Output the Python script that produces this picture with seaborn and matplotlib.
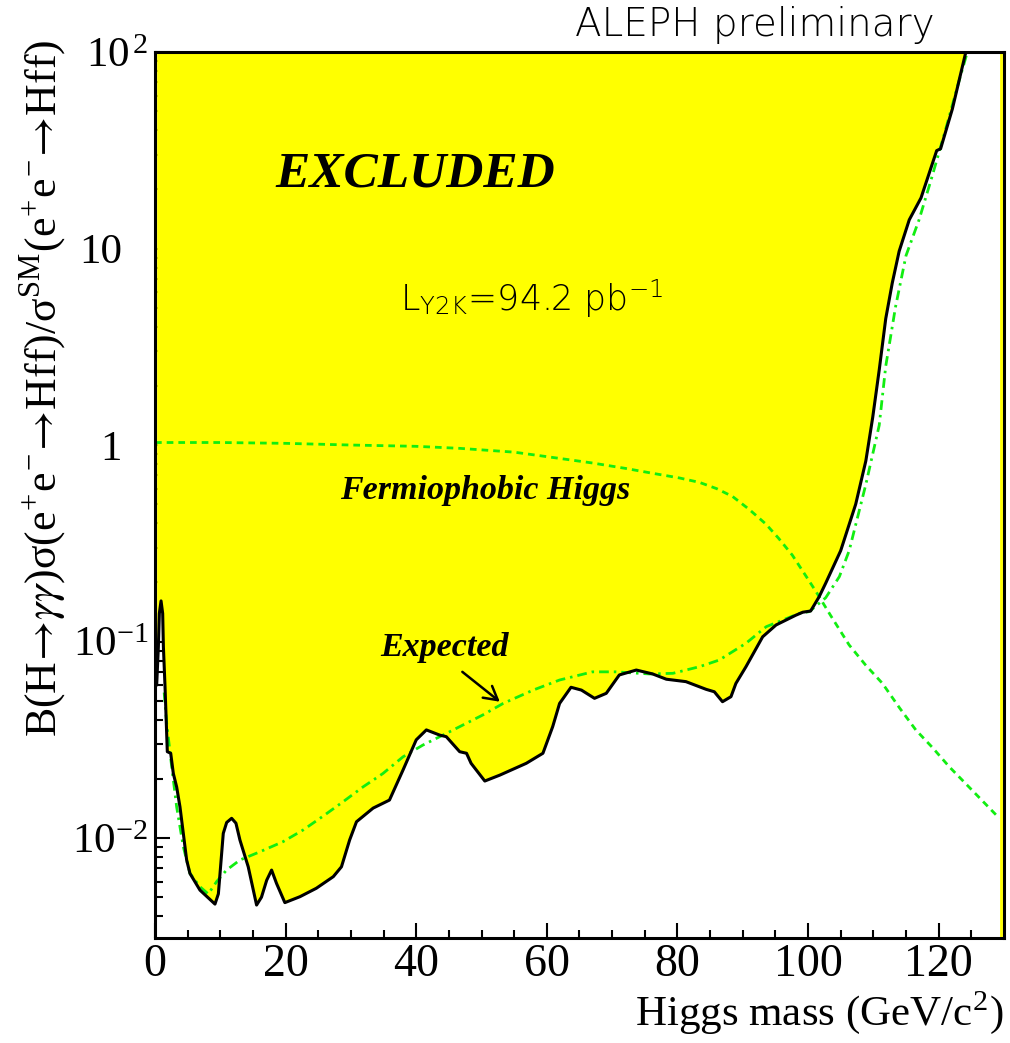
import numpy as np
import pandas as pd
import seaborn as sns
import matplotlib
matplotlib.use("Agg")
import matplotlib.pyplot as plt
from matplotlib.transforms import ScaledTranslation
from matplotlib.ticker import FixedLocator, FixedFormatter, LogLocator, MultipleLocator, NullFormatter

# Observed 95% CL upper limit (black line, boundary of the excluded region)
limit_mass = [0.25, 0.51, 0.66, 0.92, 1.17, 1.28, 1.53, 1.78, 1.88, 2.4, 2.8, 3.31, 3.82, 4.33,
              4.84, 5.35, 6.88, 9.18, 9.7, 10.45, 10.97, 11.73, 12.39, 13.0, 14.27, 15.55,
              16.3, 17.1, 17.85, 18.6, 19.88, 22.2, 24.7, 27.3, 28.55, 29.8, 30.85, 33.4,
              35.9, 37.98, 40.0, 41.55, 43.6, 44.6, 46.65, 47.7, 48.4, 50.5, 52.8, 56.85,
              59.4, 60.9, 61.95, 63.7, 65.3, 67.3, 69.1, 71.1, 73.7, 76.2, 78.3, 81.3, 84.4,
              85.65, 86.9, 88.2, 88.95, 90.5, 93.05, 95.1, 98.1, 99.2, 100.4, 101.7, 102.7,
              105.0, 107.3, 108.85, 109.9, 110.9, 111.9, 112.9, 113.95, 115.5, 117.3, 119.0,
              119.7, 120.3, 122.1, 124.1, 124.3]
limit_vals = [0.06, 0.094, 0.139, 0.161, 0.139, 0.094, 0.0589, 0.0341, 0.0275, 0.027, 0.0213,
              0.0182, 0.0144, 0.01056, 0.00773, 0.0066, 0.00543, 0.00461, 0.0052, 0.01056,
              0.0120, 0.0126, 0.0119, 0.00977, 0.00714, 0.00456, 0.0050, 0.0061, 0.00687,
              0.00588, 0.00469, 0.00503, 0.00555, 0.00636, 0.00714, 0.00977, 0.0121, 0.0142,
              0.0156, 0.0222, 0.0316, 0.0355, 0.0334, 0.0328, 0.0275, 0.027, 0.024, 0.0195,
              0.0209, 0.024, 0.027, 0.0369, 0.0484, 0.0585, 0.0566, 0.0514, 0.0545, 0.0676,
              0.0716, 0.0684, 0.0643, 0.0625, 0.0571, 0.0555, 0.0494, 0.0524, 0.0612, 0.0745,
              0.1057, 0.1214, 0.136, 0.141, 0.143, 0.169, 0.198, 0.29, 0.50, 0.83, 1.38, 2.41,
              4.40, 6.68, 9.68, 14.0, 18.1, 26.8, 31.5, 32.2, 51.3, 98.0, 100.0]

# Expected limit (green dash-dotted)
exp_mass = [1.4, 1.78, 2.55, 3.31, 4.33, 5.35, 6.88, 8.15, 9.43, 10.95, 13.0, 16.06, 19.6,
            22.7, 25.7, 28.8, 31.85, 34.9, 37.98, 41.0, 44.4, 50.2, 53.3, 57.9, 61.95, 67.0,
            70.6, 75.7, 79.3, 83.4, 86.4, 90.5, 93.6, 98.65, 100.2, 102.7, 104.8, 106.3,
            108.85, 110.9, 111.9, 113.4, 115.0, 117.0, 119.0, 121.1, 123.1, 124.4]
exp_vals = [0.055, 0.0384, 0.0231, 0.0144, 0.00903, 0.0066, 0.00565, 0.00519, 0.0060, 0.00687,
            0.00773, 0.00851, 0.00958, 0.0110, 0.0129, 0.0153, 0.0182, 0.0213, 0.0259, 0.0297,
            0.0338, 0.0423, 0.0484, 0.0566, 0.0637, 0.0701, 0.0701, 0.0684, 0.0689, 0.0745,
            0.0805, 0.098, 0.119, 0.139, 0.142, 0.167, 0.214, 0.29, 0.63, 1.26, 2.52, 5.05,
            9.2, 14.0, 23.3, 40.7, 70.8, 100.0]

# Fermiophobic Higgs prediction (green dashed)
fp_mass = [0, 10, 20, 30, 40, 46.65, 55, 61.95, 67, 72.1, 76, 80.3, 83.4, 86, 88.45, 91,
           93.55, 95.5, 97.6, 99.5, 101.2, 103.5, 106.3, 108.8, 111.4, 114, 116.5, 119,
           121.6, 125.5, 129.3]
fp_vals = [1.03, 1.03, 1.02, 1.0, 0.985, 0.962, 0.92, 0.855, 0.81, 0.76, 0.72, 0.68, 0.645,
           0.60, 0.547, 0.47, 0.396, 0.335, 0.275, 0.22, 0.18, 0.135, 0.096, 0.076, 0.0612,
           0.046, 0.0355, 0.029, 0.0231, 0.017, 0.0126]

y_ticks = [0.01, 0.1, 1, 10, 100]
y_ticklabels = [r"$\mathregular{10^{-2}}$", r"$\mathregular{10^{-1}}$", "1", "10",
                r"$\mathregular{10^{\,2}}$"]
plain_labels = ("1", "10")

sns.set_theme(style="ticks")
plt.rcParams["font.family"] = ["Liberation Serif", "DejaVu Serif"]
plt.rcParams["mathtext.fontset"] = "stix"
for key in ("text.color", "axes.labelcolor", "xtick.color", "ytick.color", "axes.edgecolor"):
    plt.rcParams[key] = "black"

YELLOW = "#ffff00"
GREEN = "#11ee11"

fig = plt.figure(figsize=(10.10, 10.43), dpi=100)
ax = fig.add_axes([0.1535, 0.1007, 0.8405, 0.8494])
ax.set_yscale("log")
ax.set_xlim(0, 130)
ax.set_ylim(0.0031, 100)

# excluded region above the observed limit
ax.fill_between(limit_mass, limit_vals, 100, color=YELLOW, lw=0, zorder=1)
ax.axvline(129.55, color=YELLOW, lw=2, zorder=1)

df_fp = pd.DataFrame({"mass": fp_mass, "val": fp_vals})
df_exp = pd.DataFrame({"mass": exp_mass, "val": exp_vals})
df_lim = pd.DataFrame({"mass": limit_mass, "val": limit_vals})

sns.lineplot(data=df_fp, x="mass", y="val", ax=ax, color=GREEN, lw=2.0,
             linestyle=(0, (2.4, 1.8)), estimator=None, sort=False, zorder=3)
sns.lineplot(data=df_exp, x="mass", y="val", ax=ax, color=GREEN, lw=2.0,
             linestyle=(0, (3.5, 1.8, 0.9, 1.8)), estimator=None, sort=False, zorder=3)
sns.lineplot(data=df_lim, x="mass", y="val", ax=ax, color="black", lw=2.2,
             estimator=None, sort=False, zorder=4)

# axes styling
for sp in ax.spines.values():
    sp.set_linewidth(2.2)
    sp.set_color("black")
    sp.set_zorder(5)

ax.xaxis.set_major_locator(MultipleLocator(20))
ax.xaxis.set_minor_locator(MultipleLocator(5))
ax.yaxis.set_major_locator(FixedLocator(y_ticks))
ax.yaxis.set_major_formatter(FixedFormatter(y_ticklabels))
ax.yaxis.set_minor_locator(LogLocator(base=10, subs=np.arange(2, 10)))
ax.yaxis.set_minor_formatter(NullFormatter())
ax.tick_params(which="both", direction="in", top=False, right=False, color="black",
               width=1.5, zorder=6)
ax.tick_params(which="major", length=11)
ax.tick_params(which="minor", length=5.5)
ax.tick_params(axis="x", which="major", labelsize=33, pad=4)
ax.tick_params(axis="y", which="major", labelsize=31, pad=5)

ax.set_xlabel(r"Higgs mass (GeV/c$^{\mathregular{2}}$)", fontsize=31, ha="right", va="center")
ax.xaxis.set_label_coords(1.0, -0.084)
ax.set_ylabel(r"B(H$\!\rightarrow\!\gamma\gamma$)σ(e$^{\mathregular{+}}$e$^{\mathregular{-}}$"
              r"$\!\rightarrow\!$Hff)/σ$^{\mathregular{SM}}$"
              r"(e$^{\mathregular{+}}$e$^{\mathregular{-}}$$\!\rightarrow\!$Hff)", fontsize=31.5,
              ha="center", va="center")
ax.yaxis.set_label_coords(-0.132, 0.62)

# annotations
ax.text(39.8, 23.7, "EXCLUDED", fontsize=37, fontweight="bold", fontstyle="italic",
        ha="center", va="center", zorder=6)
ax.text(37.5, 5.6, r"L$_{\mathregular{Y2K}}$=94.2 pb$^{\mathregular{-1}}$", fontsize=25,
        family=["DejaVu Sans"], fontweight="light", ha="left", va="center", zorder=6)
ax.text(50.55, 0.59, "Fermiophobic Higgs", fontsize=24.5, fontweight="bold",
        fontstyle="italic", ha="center", va="center", zorder=6)
ax.text(44.35, 0.0927, "Expected", fontsize=24.5, fontweight="bold", fontstyle="italic",
        ha="center", va="center", zorder=6)
ax.annotate("", xy=(52.8, 0.0494), xytext=(47.06, 0.0701),
            arrowprops=dict(arrowstyle="->,head_length=0.8,head_width=0.45", lw=1.8,
                            color="black", shrinkA=0, shrinkB=0), zorder=6)

fig.text(0.7475, 0.976, "ALEPH preliminary", fontsize=28, family=["DejaVu Sans"],
         fontweight="light", ha="center", va="center")

# labels without an exponent sit further from the axis
fig.canvas.draw()
shift = ScaledTranslation(-0.26, 0, fig.dpi_scale_trans)
for tick in ax.yaxis.get_major_ticks():
    if tick.label1.get_text() in plain_labels:
        tick.label1.set_transform(tick.label1.get_transform() + shift)

fig.savefig("out.png", dpi=100, facecolor="white")
